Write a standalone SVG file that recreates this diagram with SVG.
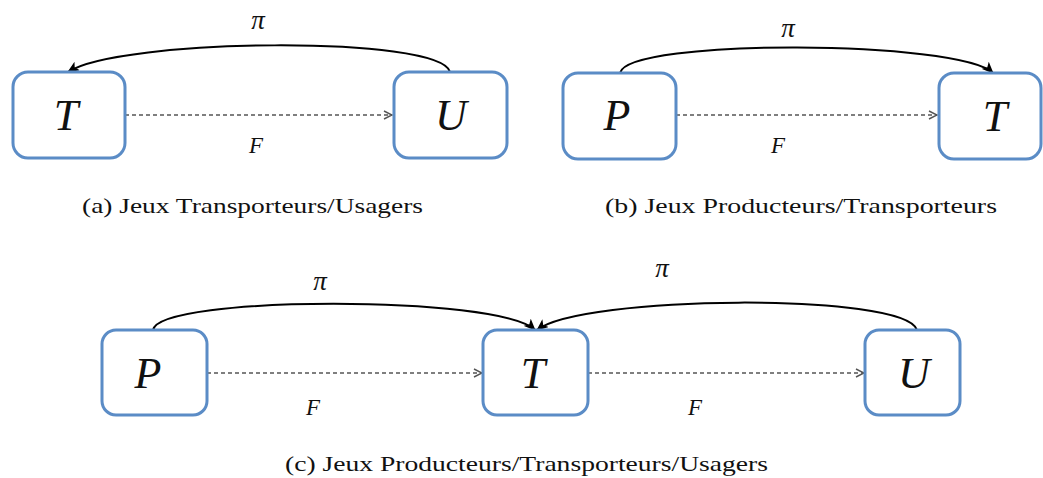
<svg xmlns="http://www.w3.org/2000/svg" width="1043" height="478" viewBox="0 0 1043 478">
<defs>
<style>
.box{fill:#fff;stroke:#5b8cc6;stroke-width:3}
.lbl{font-family:"Liberation Serif",serif;font-style:italic;font-size:44px;fill:#111;text-anchor:middle}
.sm{font-family:"Liberation Serif",serif;font-style:italic;font-size:23px;fill:#111;text-anchor:middle}
.pi{font-family:"Liberation Serif",serif;font-style:italic;font-size:27px;fill:#111;text-anchor:middle}
.cap{font-family:"Liberation Serif",serif;font-size:21px;fill:#111}
.flow{fill:none;stroke:#555;stroke-width:1.4;stroke-dasharray:4 3}
.pay{fill:none;stroke:#000;stroke-width:2}
</style>
<marker id="open" viewBox="0 0 10 10" refX="9" refY="5" markerWidth="10" markerHeight="10" markerUnits="userSpaceOnUse" orient="auto">
<path d="M1,1 L9,5 L1,9" fill="none" stroke="#555" stroke-width="1.4"/>
</marker>
<marker id="solid" viewBox="0 0 12 10" refX="11" refY="5" markerWidth="12" markerHeight="10" markerUnits="userSpaceOnUse" orient="auto">
<path d="M0,0 L12,5 L0,10 L3,5 Z" fill="#000"/>
</marker>
</defs>
<rect width="1043" height="478" fill="#fff"/>

<g id="connectors">
<path class="pay" d="M450,72 C440,35 120,38 68,72" marker-end="url(#solid)"/>
<path class="flow" d="M125,115 L392,115" marker-end="url(#open)"/>
<path class="pay" d="M620,73 C628,38 960,40 993,73" marker-end="url(#solid)"/>
<path class="flow" d="M676,115 L937,115" marker-end="url(#open)"/>
<path class="pay" d="M153,330 C160,295 500,295 535,330" marker-end="url(#solid)"/>
<path class="pay" d="M917,330 C905,292 580,295 537,330" marker-end="url(#solid)"/>
<path class="flow" d="M207,373 L482,373" marker-end="url(#open)"/>
<path class="flow" d="M588,373 L864,373" marker-end="url(#open)"/>
<text class="pi" x="258" y="29">π</text>
<text class="sm" x="256" y="153">F</text>
<text class="pi" x="788" y="37">π</text>
<text class="sm" x="778" y="153">F</text>
<text class="pi" x="320" y="290">π</text>
<text class="sm" x="313" y="415">F</text>
<text class="pi" x="662" y="277">π</text>
<text class="sm" x="695" y="415">F</text>
</g>

<g id="a-T"><rect class="box" x="13" y="72" width="112" height="86" rx="15"/><text class="lbl" x="66" y="130">T</text></g>
<g id="a-U"><rect class="box" x="394" y="72" width="113" height="86" rx="15"/><text class="lbl" x="451" y="130">U</text></g>
<g id="b-P"><rect class="box" x="563" y="73" width="113" height="86" rx="15"/><text class="lbl" x="617" y="130">P</text></g>
<g id="b-T"><rect class="box" x="939" y="73" width="102" height="86" rx="15"/><text class="lbl" x="995" y="131">T</text></g>
<g id="c-P"><rect class="box" x="102" y="330" width="105" height="85" rx="14"/><text class="lbl" x="148" y="388">P</text></g>
<g id="c-T"><rect class="box" x="483" y="330" width="105" height="85" rx="14"/><text class="lbl" x="533" y="388">T</text></g>
<g id="c-U"><rect class="box" x="865" y="330" width="95" height="85" rx="14"/><text class="lbl" x="914" y="388">U</text></g>

<g id="captions">
<text class="cap" x="82" y="213" textLength="341" lengthAdjust="spacingAndGlyphs">(a) Jeux Transporteurs/Usagers</text>
<text class="cap" x="605" y="213" textLength="392" lengthAdjust="spacingAndGlyphs">(b) Jeux Producteurs/Transporteurs</text>
<text class="cap" x="285" y="471" textLength="483" lengthAdjust="spacingAndGlyphs">(c) Jeux Producteurs/Transporteurs/Usagers</text>
</g>
</svg>
